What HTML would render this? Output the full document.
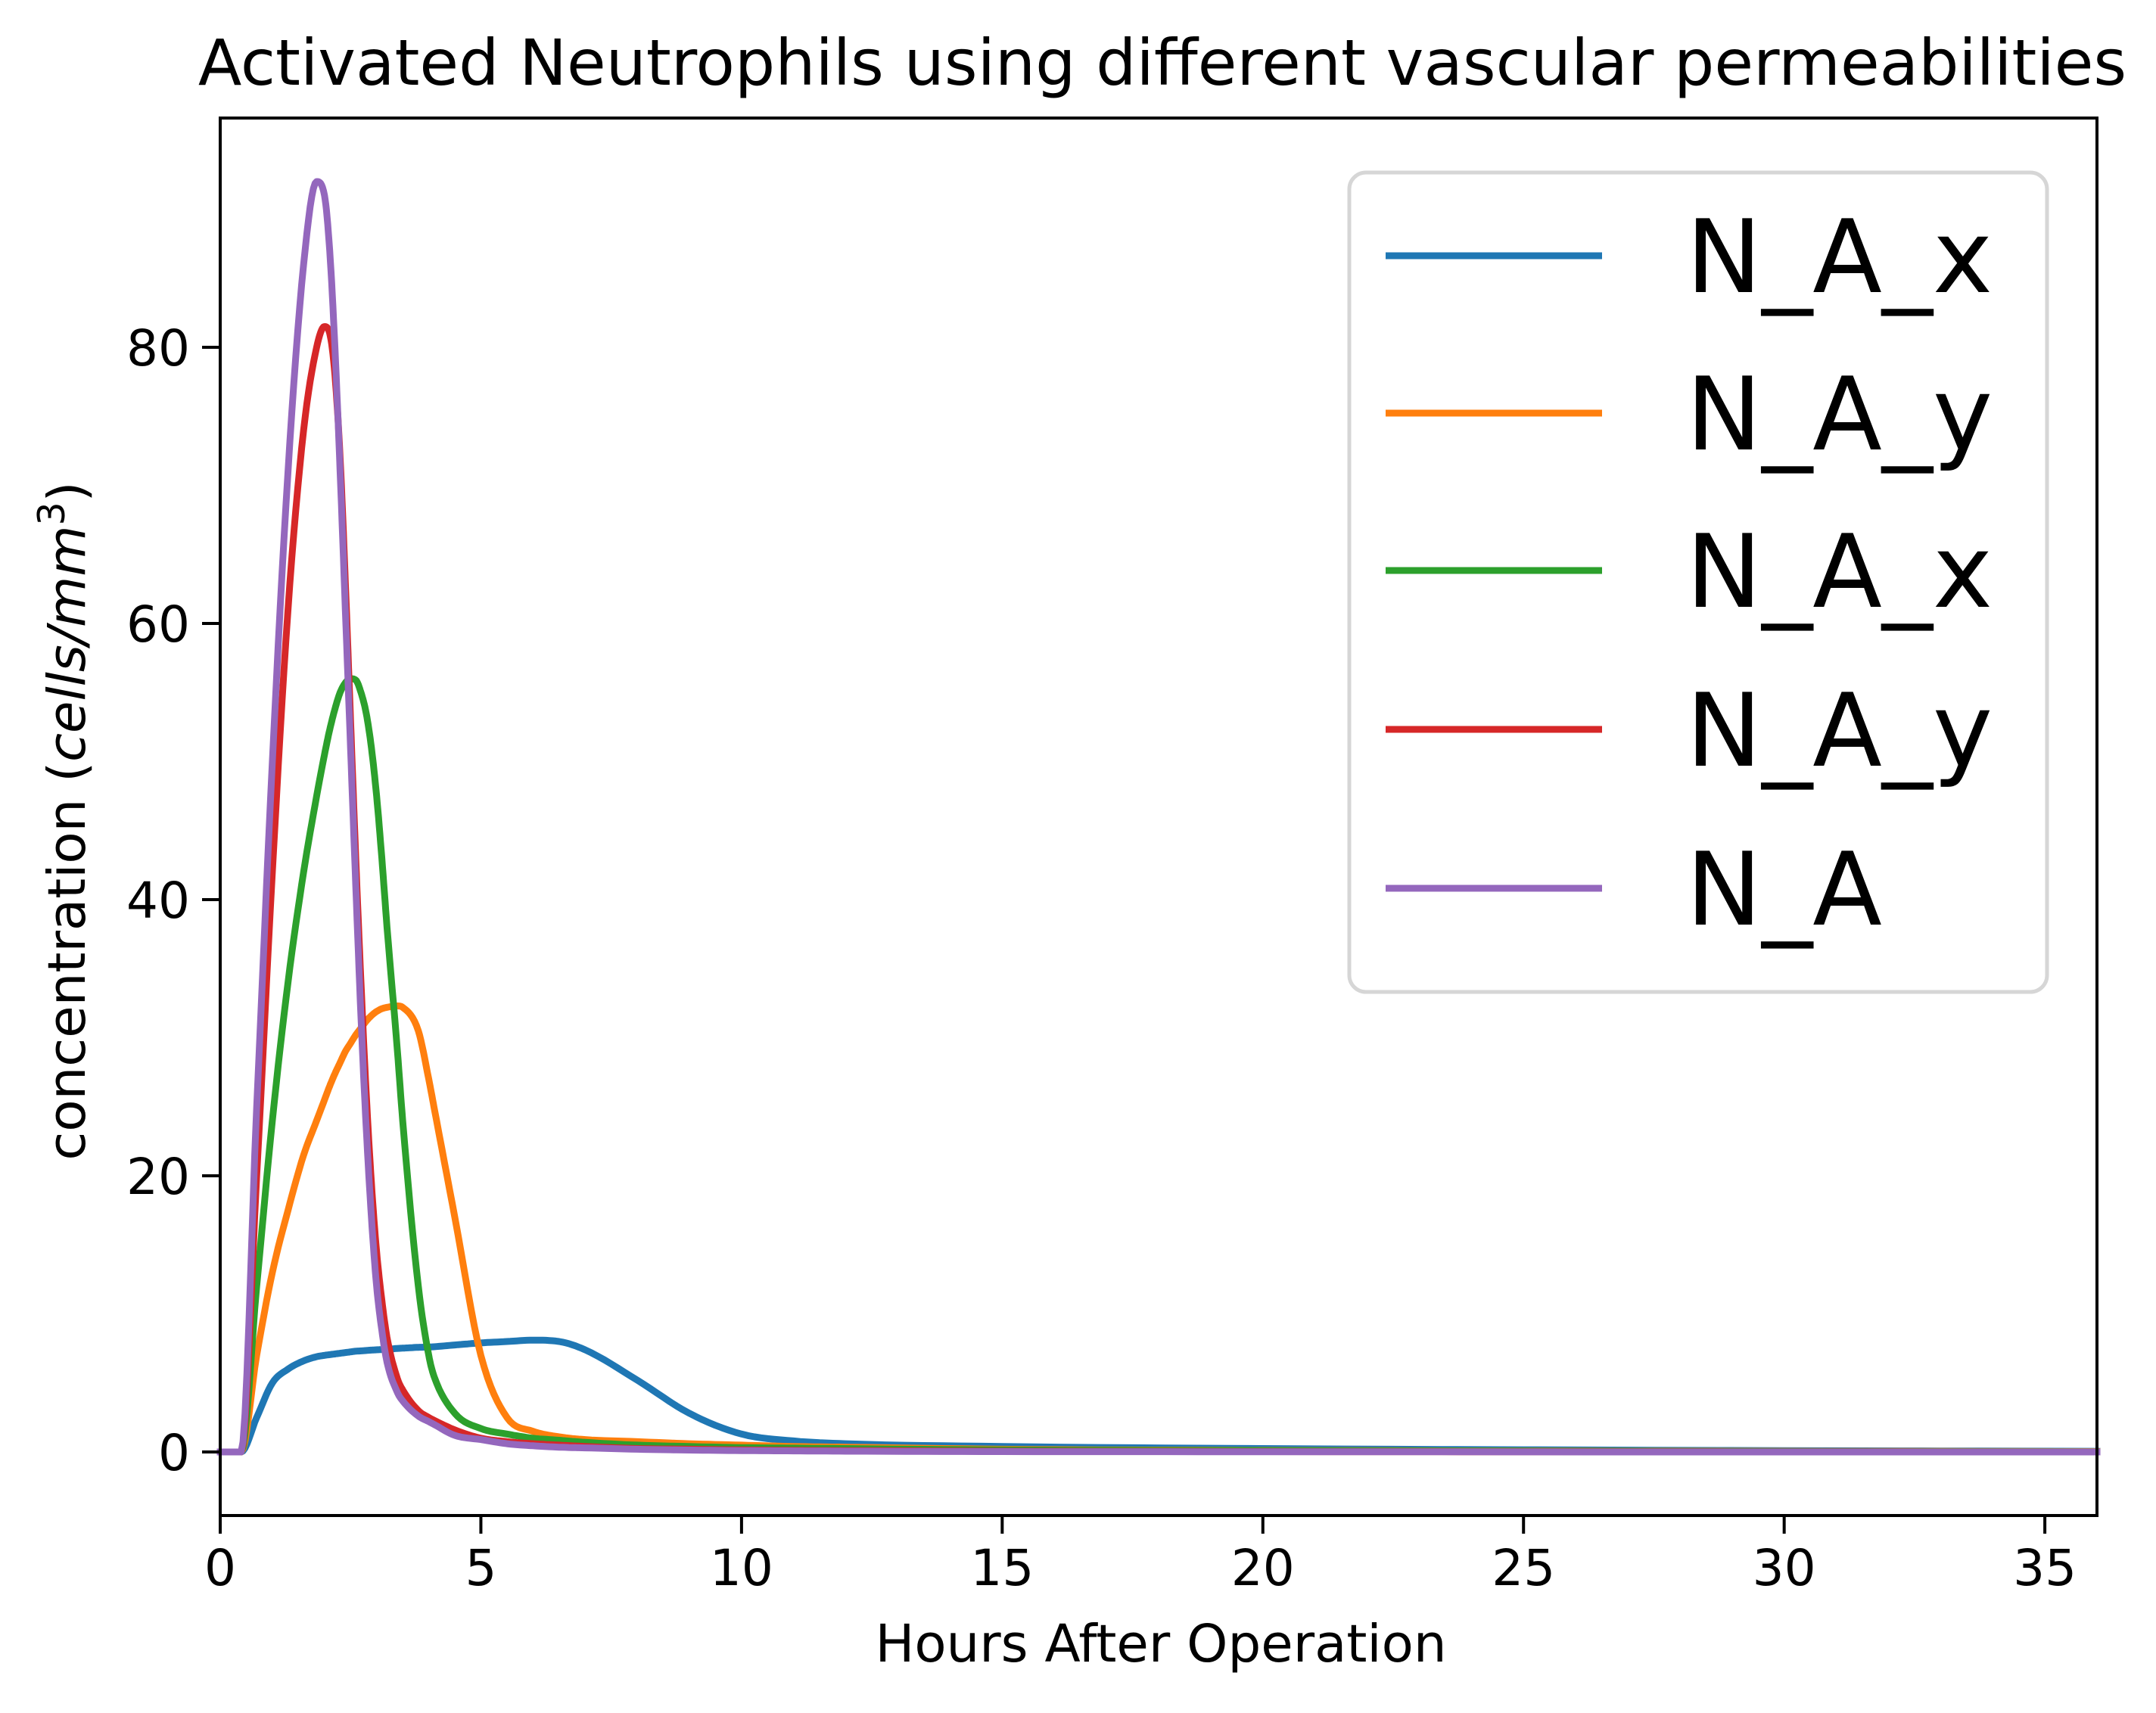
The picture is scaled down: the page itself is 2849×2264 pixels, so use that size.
<!DOCTYPE html>
<html><head><meta charset="utf-8"><style>
html,body{margin:0;padding:0;background:#fff;}
svg{display:block;font-family:"DejaVu Sans","Liberation Sans",sans-serif;}
</style></head><body>
<svg id="chart" width="2849" height="2264" viewBox="0 0 2849 2264" xmlns="http://www.w3.org/2000/svg">
<rect width="2849" height="2264" fill="#fff"/>
<text x="1536" y="112" font-size="84" text-anchor="middle">Activated Neutrophils using different vascular permeabilities</text>
<g id="lines"></g>
<rect x="291" y="156" width="2480" height="1847" fill="none" stroke="#000" stroke-width="4"/>
<g id="ticks"></g>
<text x="1534" y="2196" font-size="69" text-anchor="middle">Hours After Operation</text>
<text transform="translate(112,1085) rotate(-90)" font-size="69" text-anchor="middle">concentration (<tspan font-style="italic">cells/mm</tspan><tspan font-size="49" dy="-27">3</tspan><tspan dy="27">)</tspan></text>
<g id="legend"></g>
</svg>
<script>
const times = [0,0.4,0.7,1.0,1.3,1.6,1.85,2.0,2.1,2.2,2.3,2.4,2.5,2.6,2.7,2.8,2.9,3.0,3.1,3.2,3.4,3.5,3.8,4.0,4.1,4.5,5.0,5.5,6.0,6.5,7.0,8.0,9.0,10.0,11.0,12.0,15.0,20.0,30.0,36.0];
const seriesNames = ["N_A_x","N_A_y","N_A_x","N_A_y","N_A"];
const blueVals   = [0,0,2.5,5,6,6.6,6.9,7.0,7.05,7.1,7.15,7.2,7.25,7.3,7.32,7.35,7.38,7.4,7.42,7.44,7.5,7.52,7.58,7.6,7.62,7.75,7.9,8.0,8.1,8.0,7.4,5.2,2.8,1.3,0.8,0.6,0.4,0.25,0.1,0.05];
const orangeVals = [0,0,7,13,17.5,21.5,24,25.5,26.5,27.4,28.2,29,29.6,30.2,30.7,31.2,31.6,31.9,32.1,32.2,32.3,32.2,30.5,27,25,17,7,2.5,1.5,1.1,0.9,0.75,0.6,0.5,0.4,0.35,0.2,0.12,0.05,0.03];
const greenVals  = [0,0,12,24,34,42,47.5,50.5,52.3,53.8,55,55.7,56,55.9,55,53.5,51,47.5,43,38,29,24,12,7,5.5,2.8,1.7,1.3,1.0,0.85,0.7,0.5,0.4,0.32,0.28,0.25,0.15,0.1,0.03,0.01];
const redVals    = [0,0,20,42,61,74,80,81.5,81,78,72,63,53,43,34,26,19.5,14.5,11,8.3,5.3,4.5,3.0,2.5,2.3,1.6,1.0,0.75,0.6,0.5,0.4,0.25,0.2,0.15,0.12,0.1,0.06,0.03,0.01,0];
const purpleVals = [0,0,25,50,71,86,92,91,87,80,71,61,51,41,31.5,23.5,17,12,8.8,6.5,4.3,3.7,2.6,2.2,2.0,1.2,0.9,0.6,0.45,0.35,0.3,0.2,0.14,0.1,0.08,0.06,0.03,0.02,0,0];
const xTicks = [0,5,10,15,20,25,30,35];
const yTicks = [0,20,40,60,80];
const colors = ["#1f77b4","#ff7f0e","#2ca02c","#d62728","#9467bd"];
const allSeries = [blueVals,orangeVals,greenVals,redVals,purpleVals];

const NS="http://www.w3.org/2000/svg";
const L=291,R=2771,T=156,B=2003,X0=0,X1=36,Y0=-4.6,Y1=96.6;
function sx(v){return L+(v-X0)/(X1-X0)*(R-L);}
function sy(v){return B-(v-Y0)/(Y1-Y0)*(B-T);}
function mk(tag,attrs,parent){const e=document.createElementNS(NS,tag);for(const k in attrs)e.setAttribute(k,attrs[k]);parent.appendChild(e);return e;}

function monoPath(xs,ys){
  const n=xs.length,d=[],m=[];
  for(let i=0;i<n-1;i++)d.push((ys[i+1]-ys[i])/(xs[i+1]-xs[i]));
  for(let i=0;i<n;i++){
    if(i===0)m.push(d[0]);else if(i===n-1)m.push(d[n-2]);
    else m.push(d[i-1]*d[i]<=0?0:(d[i-1]+d[i])/2);
  }
  for(let i=0;i<n-1;i++){
    if(d[i]===0){m[i]=0;m[i+1]=0;continue;}
    const a=m[i]/d[i],b=m[i+1]/d[i],s=a*a+b*b;
    if(s>9){const t=3/Math.sqrt(s);m[i]=t*a*d[i];m[i+1]=t*b*d[i];}
  }
  let p="M"+sx(xs[0]).toFixed(1)+","+sy(ys[0]).toFixed(1);
  for(let i=0;i<n-1;i++){
    const h=xs[i+1]-xs[i];
    for(let k=1;k<=8;k++){
      const t=k/8,t2=t*t,t3=t2*t;
      const y=(2*t3-3*t2+1)*ys[i]+(t3-2*t2+t)*h*m[i]+(-2*t3+3*t2)*ys[i+1]+(t3-t2)*h*m[i+1];
      p+="L"+sx(xs[i]+t*h).toFixed(1)+","+sy(y).toFixed(1);
    }
  }
  return p;
}

const lines=document.getElementById('lines');
allSeries.forEach((vals,i)=>{
  const p=mk('path',{d:monoPath(times,vals),fill:'none',stroke:colors[i],'stroke-width':9,'stroke-linejoin':'round','stroke-linecap':'square'},lines);
  
  
});

const ticks=document.getElementById('ticks');
xTicks.forEach(v=>{
  const l=mk('line',{x1:sx(v),x2:sx(v),y1:B,y2:B+24,stroke:'#000','stroke-width':4},ticks);
  
  
  const t=mk('text',{x:sx(v),y:B+92,'font-size':66,'text-anchor':'middle'},ticks);
  t.textContent=v;
  
  
});
yTicks.forEach(v=>{
  const l=mk('line',{x1:L-24,x2:L,y1:sy(v),y2:sy(v),stroke:'#000','stroke-width':4},ticks);
  
  
  const t=mk('text',{x:L-40,y:sy(v)+24,'font-size':66,'text-anchor':'end'},ticks);
  t.textContent=v;
  
  
});

const leg=document.getElementById('legend');
const box=mk('rect',{x:1783,y:228,width:922,height:1083,rx:22,fill:'#fff','fill-opacity':0.8,stroke:'#d6d6d6','stroke-width':5},leg);


const entryY=[338,546,754,964,1174];
seriesNames.forEach((n,i)=>{
  const l=mk('line',{x1:1831,x2:2117,y1:entryY[i],y2:entryY[i],stroke:colors[i],'stroke-width':9},leg);
  
  
  const t=mk('text',{x:2228,y:entryY[i]+48,'font-size':134},leg);
  t.textContent=n;
  
  
});
</script>
</body></html>
